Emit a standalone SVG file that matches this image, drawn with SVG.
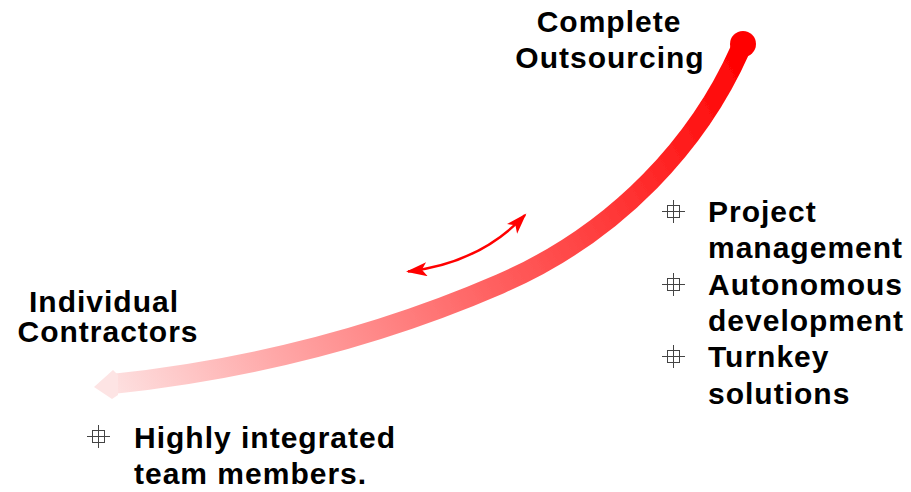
<svg xmlns="http://www.w3.org/2000/svg" width="911" height="492" viewBox="0 0 911 492">
<style>
.lbl{font-family:"Liberation Sans",Arial,sans-serif;font-weight:bold;font-size:30px;letter-spacing:1px;fill:#000}
.bul{fill:none;stroke:#444;stroke-width:1}
</style>
<defs>
<linearGradient id="g" gradientUnits="userSpaceOnUse" x1="100" y1="385" x2="743" y2="44">
<stop offset="0" stop-color="#fde4e4"/>
<stop offset="0.23" stop-color="#ffa8a8"/>
<stop offset="0.55" stop-color="#ff5e5e"/>
<stop offset="0.8" stop-color="#ff2a2a"/>
<stop offset="1" stop-color="#ff0000"/>
</linearGradient>
<filter id="soft" x="-5%" y="-5%" width="110%" height="110%"><feGaussianBlur stdDeviation="0.6"/></filter>
<marker id="ah" markerUnits="userSpaceOnUse" markerWidth="23" markerHeight="15" refX="19" refY="7" orient="auto-start-reverse">
<path d="M0,0 L21,7 L0,14 L5,7 z" fill="#ff0000"/>
</marker>
<g id="bullet"><rect x="-6" y="-6" width="12" height="12" class="bul"/><line x1="-11.5" y1="0" x2="11.5" y2="0" class="bul"/><line x1="0" y1="-11.5" x2="0" y2="11.5" class="bul"/></g>
</defs>
<g id="connectors">
<g id="main-curve" filter="url(#soft)">
<path d="M112,384 Q320,362 500,284 C620,232 700,140 740,50" fill="none" stroke="url(#g)" stroke-width="20"/>
<polygon points="94,387 113,370 118,375 118,395 112,399" fill="#fde4e4"/>
<circle cx="743" cy="44" r="13" fill="#ff0000"/>
</g>
<path id="double-arrow" d="M408,271.5 Q480,263 525,215" fill="none" stroke="#ff0000" stroke-width="2.5" marker-start="url(#ah)" marker-end="url(#ah)"/>
</g>
<g id="complete-outsourcing">
<text class="lbl" x="609" y="32" text-anchor="middle">Complete</text>
<text class="lbl" x="610" y="68" text-anchor="middle">Outsourcing</text>
</g>
<g id="individual-contractors">
<text class="lbl" x="104" y="312" text-anchor="middle">Individual</text>
<text class="lbl" x="108" y="342" text-anchor="middle">Contractors</text>
</g>
<g id="outsourcing-bullets">
<use href="#bullet" x="673.5" y="211.5"/>
<use href="#bullet" x="673.5" y="284.5"/>
<use href="#bullet" x="673.5" y="356.5"/>
<text class="lbl" x="708" y="222">Project</text>
<text class="lbl" x="708" y="258">management</text>
<text class="lbl" x="708" y="295">Autonomous</text>
<text class="lbl" x="708" y="331">development</text>
<text class="lbl" x="708" y="367">Turnkey</text>
<text class="lbl" x="708" y="404">solutions</text>
</g>
<g id="contractor-bullets">
<use href="#bullet" x="98.5" y="436.5"/>
<text class="lbl" x="134" y="448">Highly integrated</text>
<text class="lbl" x="134" y="484">team members.</text>
</g>
</svg>
